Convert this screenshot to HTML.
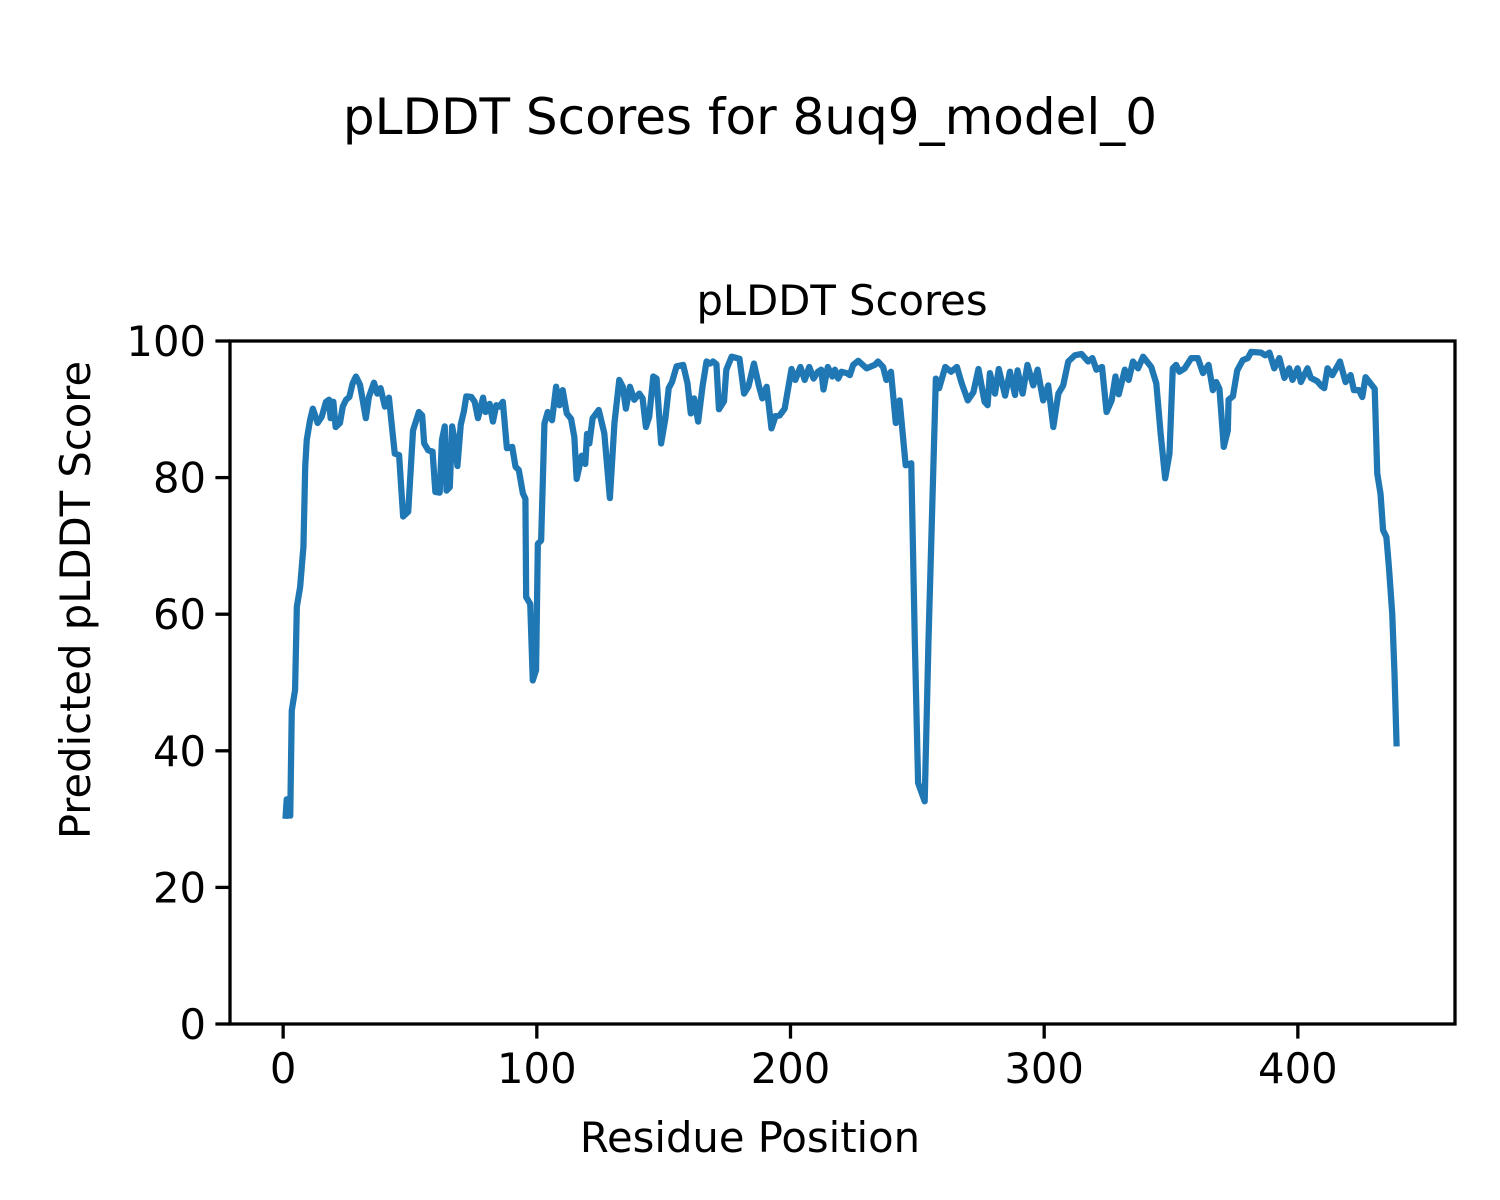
<!DOCTYPE html>
<html><head><meta charset="utf-8"><style>
html,body{margin:0;padding:0;background:#fff;}
svg{display:block;font-family:"DejaVu Sans","Liberation Sans",sans-serif;}
</style></head><body>
<svg id="chart" width="1500" height="1200" viewBox="0 0 1500 1200">
<rect width="1500" height="1200" fill="#fff"/>
<text x="750" y="134" font-size="50" text-anchor="middle" fill="#000">pLDDT Scores for 8uq9_model_0</text>
<text x="842" y="315" font-size="41.7" text-anchor="middle" fill="#000">pLDDT Scores</text>
<g id="plot"></g>
<text x="750" y="1152" font-size="41.7" text-anchor="middle" fill="#000">Residue Position</text>
<text transform="translate(90,600) rotate(-90)" font-size="41.7" text-anchor="middle" fill="#000">Predicted pLDDT Score</text>
</svg>
<script>
const residues = [1,1.4,2.8,3.4,4.7,5.4,6.7,8.0,8.7,9.3,10.6,11.7,13.6,15.2,16.9,18.1,18.7,19.8,20.7,22.4,23.5,24.8,26.1,27.4,28.7,30.3,32.6,33.8,35.8,37.1,38.4,40.1,41.7,44.0,45.7,47.3,49.3,51.2,53.5,54.8,55.6,57.2,58.9,60.0,61.7,62.6,63.7,64.4,65.7,66.6,67.6,68.7,70.0,71.3,72.2,74.2,75.5,76.8,78.8,79.8,81.4,82.7,84.0,85.3,86.6,88.2,90.3,91.6,92.9,94.5,95.5,95.8,97.4,98.4,99.7,100.4,101.7,103.0,104.3,106.0,107.6,108.9,110.2,111.8,113.5,114.8,115.7,117.7,119.1,119.8,120.7,122.0,124.4,126.6,128.8,130.6,132.5,133.9,135.1,136.7,138.4,140.4,141.7,143.0,144.3,145.9,147.2,149.0,150.7,152.0,153.3,155.1,157.7,159.4,160.7,162.0,163.6,165.3,166.9,168.3,169.5,170.8,171.8,173.8,174.7,176.8,179.9,181.7,183.4,185.6,187.5,188.9,190.6,192.5,194.1,195.7,197.7,200.4,201.9,203.9,205.6,207.4,209.1,210.8,212.1,213.0,214.7,216.5,217.5,218.8,220.1,222.1,223.4,224.7,226.7,230.0,233.2,234.5,236.5,237.8,239.6,241.5,243.0,245.4,247.6,249.0,250.3,252.9,254.4,257.3,258.6,261.0,263.3,265.6,267.5,269.9,272.1,274.1,276.5,277.7,278.6,280.6,282.1,284.6,286.5,288.5,289.5,291.5,293.4,295.7,297.4,299.6,301.6,303.6,305.6,307.5,309.5,312.1,314.7,317.3,319.0,320.6,322.8,324.6,326.6,328.1,329.4,331.8,333.3,335.0,337.0,339.0,342.2,344.2,345.9,347.7,349.4,350.7,352.0,353.3,355.4,358.0,360.6,362.6,364.8,366.5,367.8,369.1,370.8,372.4,372.7,374.4,376.1,378.3,380.3,381.6,385.5,387.1,388.8,390.7,392.7,394.7,396.6,397.9,399.9,401.2,403.8,405.1,407.7,409.3,410.4,411.7,413.6,416.6,418.8,420.8,422.1,424.1,425.4,426.7,428.6,430.3,431.3,432.6,433.6,434.9,435.9,437.2,438.1,438.9];
const scores = [30.5,32.9,30.5,45.9,48.9,61.1,64.0,69.9,81.6,85.5,88.4,90.1,88.0,88.9,91.1,91.4,88.7,91.1,87.4,88.0,90.4,91.4,91.8,93.8,94.8,93.6,88.7,91.8,93.9,92.3,93.1,90.4,91.7,83.5,83.3,74.3,75.0,86.9,89.6,89.1,85.0,84.0,83.8,77.9,77.8,85.5,87.5,78.1,78.6,87.5,85.5,81.7,87.7,89.8,91.9,91.8,91.1,88.7,91.7,89.6,90.8,88.2,90.6,90.4,91.1,84.3,84.5,81.6,81.1,77.7,76.9,62.5,61.5,50.3,51.8,70.3,70.8,87.9,89.6,88.4,93.3,90.6,92.8,89.4,88.6,85.9,79.8,83.2,82.0,86.4,85.0,88.7,89.9,86.5,77.0,88.0,94.3,93.3,90.1,93.3,91.4,92.3,91.6,87.4,88.9,94.8,94.5,85.0,88.7,93.1,94.0,96.3,96.5,93.8,89.4,91.6,88.2,93.3,97.0,96.7,97.0,96.6,90.0,91.2,95.8,97.7,97.4,92.3,93.3,96.7,93.5,91.6,93.3,87.2,89.0,89.1,90.1,95.9,94.3,96.2,94.3,96.2,94.5,95.5,95.8,92.9,96.2,94.8,95.8,94.5,95.5,95.3,95.0,96.5,97.1,96.0,96.5,97.0,96.2,94.3,95.5,88.0,91.3,81.8,82.1,56.2,35.3,32.6,56.2,94.5,93.1,96.2,95.5,96.2,93.8,91.3,92.5,95.9,91.1,90.6,95.3,92.3,95.9,92.0,95.5,92.1,95.7,92.3,96.5,93.5,95.8,91.3,93.5,87.4,92.3,93.5,97.0,97.9,98.1,97.0,97.5,95.8,96.2,89.6,91.3,94.8,92.2,95.8,94.3,97.0,96.0,97.7,96.2,93.8,86.5,79.9,83.5,96.0,96.5,95.5,96.0,97.5,97.5,95.3,96.5,92.8,94.0,93.0,84.5,86.9,91.4,91.9,95.7,97.2,97.5,98.4,98.3,97.9,98.3,96.0,97.5,94.6,96.0,94.3,96.0,94.0,96.0,94.6,94.1,93.4,93.1,96.0,95.0,97.0,94.0,95.0,92.8,92.8,91.8,94.7,93.8,93.0,80.6,77.6,72.3,71.3,66.9,60.1,51.3,41.1];
const xTicks = [0,100,200,300,400];
const yTicks = [0,20,40,60,80,100];

const NS = 'http://www.w3.org/2000/svg';
const L = 230, R = 1455, T = 341, B = 1024;
const xMin = -20.95, xMax = 461.95, yMin = 0, yMax = 100;
function xs(v){ return L + (v - xMin) / (xMax - xMin) * (R - L); }
function ys(v){ return B - (v - yMin) / (yMax - yMin) * (B - T); }
const plot = document.getElementById('plot');
function mk(tag, attrs){ const e = document.createElementNS(NS, tag); for (const k in attrs) e.setAttribute(k, attrs[k]); return e; }

const d = residues.map((r,i)=>(i?'L':'M')+xs(r).toFixed(2)+','+ys(scores[i]).toFixed(2)).join(' ');
const line = mk('path', {d:d, fill:'none', stroke:'#1f77b4', 'stroke-width':6.25, 'stroke-linejoin':'round', 'stroke-linecap':'square'});


plot.appendChild(line);

const frame = mk('rect', {x:L, y:T, width:R-L, height:B-T, fill:'none', stroke:'#000', 'stroke-width':3.3});


plot.appendChild(frame);

xTicks.forEach(v=>{
  const x = xs(v);
  const t = mk('line', {x1:x, x2:x, y1:B, y2:B+14.6, stroke:'#000', 'stroke-width':3.3});
  
  
  plot.appendChild(t);
  const lb = mk('text', {x:x, y:B+59, 'font-size':41.7, 'text-anchor':'middle', fill:'#000'});
  lb.textContent = v;
  
  
  plot.appendChild(lb);
});
yTicks.forEach(v=>{
  const y = ys(v);
  const t = mk('line', {x1:L-14.6, x2:L, y1:y, y2:y, stroke:'#000', 'stroke-width':3.3});
  
  
  plot.appendChild(t);
  const lb = mk('text', {x:L-24, y:y+15, 'font-size':41.7, 'text-anchor':'end', fill:'#000'});
  lb.textContent = v;
  
  
  plot.appendChild(lb);
});
</script>
</body></html>
